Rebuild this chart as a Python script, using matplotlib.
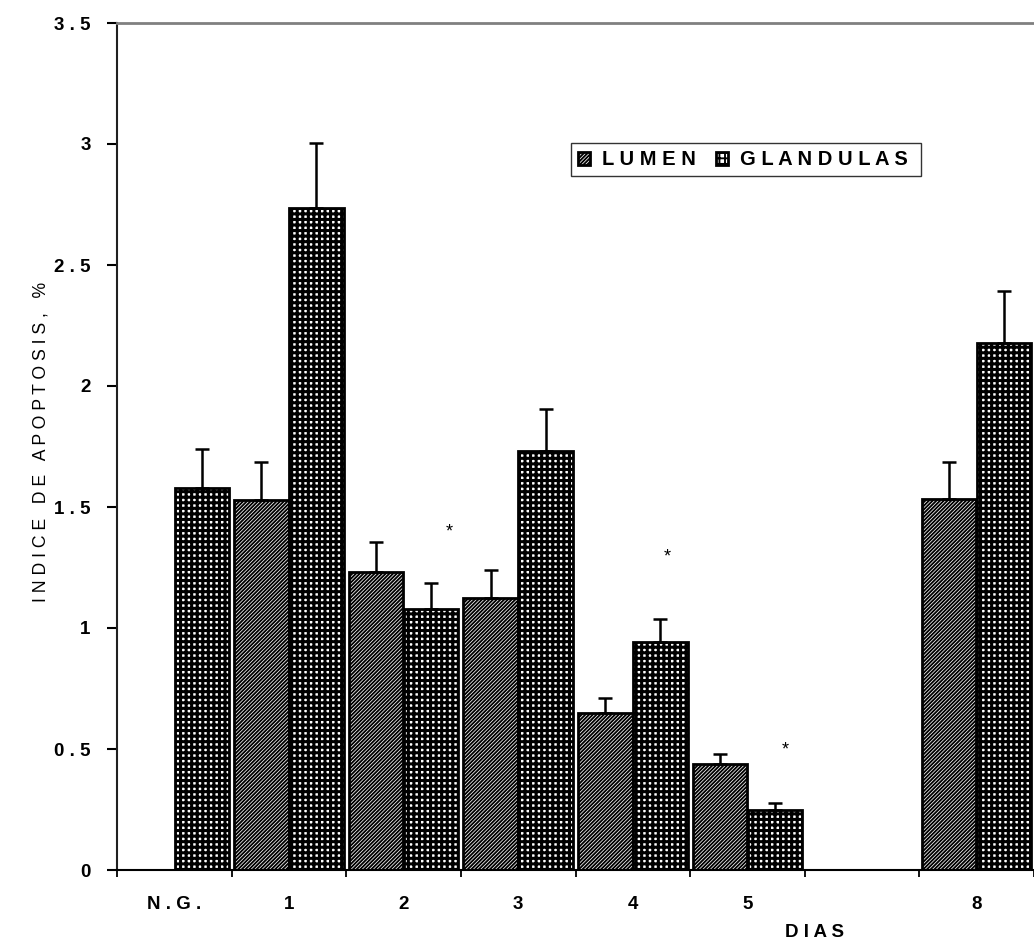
import matplotlib
matplotlib.use("Agg")
import matplotlib.pyplot as plt
import numpy as np

# datos
dias = ["N . G .", "1", "2", "3", "4", "5", "", "8"]
lumen = [0.0, 1.53, 1.233, 1.126, 0.648, 0.438, np.nan, 1.532]
lumen_err = [0.0, 0.155, 0.122, 0.113, 0.064, 0.043, np.nan, 0.153]
glandulas = [1.58, 2.735, 1.079, 1.732, 0.941, 0.248, np.nan, 2.177]
glandulas_err = [0.16, 0.27, 0.107, 0.171, 0.095, 0.028, np.nan, 0.216]
# asteriscos (posicion en x de dia, altura)
ast_x = [2.40, 4.30, 5.33]
ast_y = [1.395, 1.295, 0.495]
yticks = [0, 0.5, 1, 1.5, 2, 2.5, 3, 3.5]
ytick_labels = ["0", "0 . 5", "1", "1 . 5", "2", "2 . 5", "3", "3 . 5"]


def main():
    plt.rcParams['font.family'] = ['Liberation Sans', 'DejaVu Sans']
    plt.rcParams['hatch.linewidth'] = 1.35

    fig = plt.figure(figsize=(10.34, 9.47), dpi=100)
    ax = fig.add_axes([117 / 1034, 1 - 870 / 947, 1 - 117 / 1034, (870 - 23) / 947])

    x = np.arange(len(dias))
    w = 0.475
    ax.bar(x - 0.24, lumen, w, color='white', edgecolor='black', hatch='/' * 9,
           linewidth=2, label='L U M E N', zorder=2)
    with plt.rc_context({'hatch.linewidth': 2.2}):
        ax.bar(x + 0.24, glandulas, w, color='white', edgecolor='black', hatch='+++',
               linewidth=2, label='G L A N D U L A S ', zorder=2)

    lum = np.array(lumen)
    gla = np.array(glandulas)
    ax.errorbar(x - 0.24, lum, yerr=[np.zeros_like(lum), lumen_err], fmt='none',
                ecolor='black', elinewidth=1.8, capsize=4.7, capthick=1.8, zorder=3)
    ax.errorbar(x + 0.24, gla, yerr=[np.zeros_like(gla), glandulas_err], fmt='none',
                ecolor='black', elinewidth=1.8, capsize=4.7, capthick=1.8, zorder=3)

    # asteriscos de significancia
    for xa, ya in zip(ast_x, ast_y):
        ax.text(xa, ya, '*', ha='center', va='center', fontsize=13)

    ax.set_ylim(0, 3.5)
    ax.set_xlim(-0.5, (1034 - 117) / 116.2 - 0.5)
    ax.set_yticks(yticks)
    ax.set_yticklabels(ytick_labels, fontweight='bold', fontsize=13.5)
    ax.tick_params(axis='y', length=7, width=1.5, pad=12, direction='out')

    ax.set_xticks(x)
    ax.set_xticklabels(dias, fontweight='bold', fontsize=13.5)
    ax.tick_params(axis='x', which='major', length=0, pad=19)
    ax.set_xticks(np.arange(len(dias) + 1) - 0.5, minor=True)
    ax.tick_params(axis='x', which='minor', length=5, width=1.3, direction='out')

    ax.spines['right'].set_visible(False)
    ax.spines['top'].set_color('#808080')
    ax.spines['top'].set_linewidth(2)
    ax.spines['left'].set_linewidth(1.5)
    ax.spines['left'].set_color('#202020')
    ax.spines['bottom'].set_linewidth(1.5)

    ax.set_ylabel("I N D I C E   D E   A P O P T O S I S ,   %", fontsize=12.7)
    ax.yaxis.set_label_coords(-0.074, 0.505)
    ax.set_xlabel("D I A S", fontsize=13.5, fontweight='bold')
    ax.xaxis.set_label_coords(0.761, -0.064)

    leg = ax.legend(loc='upper left', bbox_to_anchor=(0.495, 0.858), ncol=2,
                    borderaxespad=0, fancybox=False, frameon=True,
                    prop={'weight': 'bold', 'size': 14.5},
                    handlelength=0.6, handleheight=0.6, handletextpad=0.6,
                    columnspacing=1.0, borderpad=0.35)
    leg.get_frame().set_edgecolor('black')
    leg.get_frame().set_linewidth(1.0)

    fig.savefig('out.png', dpi=100)


if __name__ == '__main__':
    main()
